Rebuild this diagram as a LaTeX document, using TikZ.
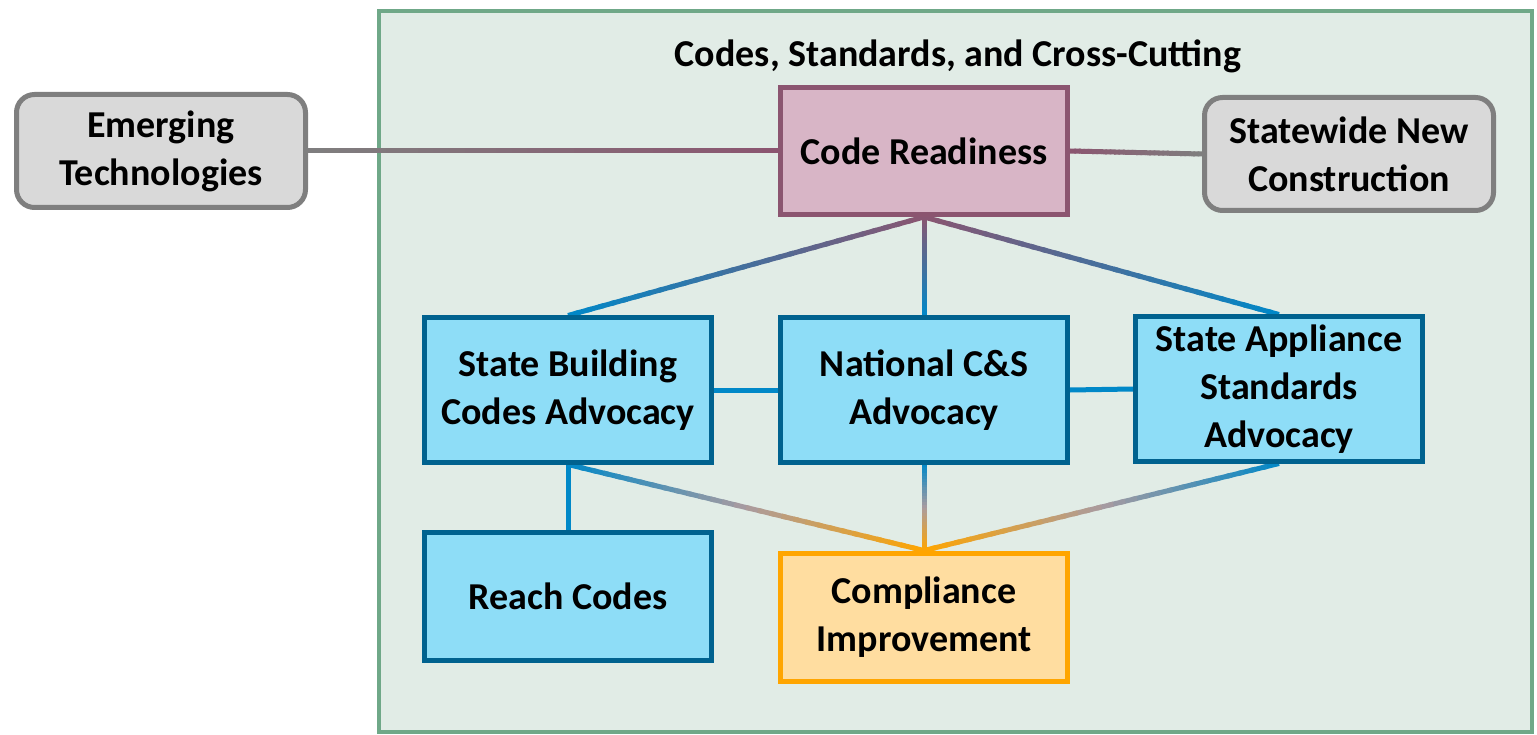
\documentclass[tikz,border=0pt]{standalone}
\usepackage{fontspec}
\setmainfont{Carlito}
\usetikzlibrary{calc}
\definecolor{framegreen}{HTML}{6FA888}
\definecolor{framefill}{HTML}{E1ECE6}
\definecolor{grayfill}{HTML}{D9D9D9}
\definecolor{grayline}{HTML}{7F7F7F}
\definecolor{purplefill}{HTML}{D8B5C6}
\definecolor{purpleline}{HTML}{8B5570}
\definecolor{bluefill}{HTML}{8EDDF7}
\definecolor{blueline}{HTML}{00628F}
\definecolor{bluelink}{HTML}{0088C8}
\definecolor{orangefill}{HTML}{FFDDA0}
\definecolor{orangeline}{HTML}{FFA500}
\definecolor{midmauve}{HTML}{A99BA0}
\pgfdeclarelayer{framelayer}
\pgfdeclarelayer{linelayer}
\pgfsetlayers{framelayer,linelayer,main}
\tikzset{
  boxtext/.style={font=\bfseries\fontsize{38}{48}\selectfont, align=center, text=black, inner sep=0pt},
  graybox/.style={boxtext, draw=grayline, fill=grayfill, line width=5pt, rounded corners=18pt, minimum width=289pt, minimum height=113pt},
  sqbox/.style={boxtext, line width=5pt, minimum width=287pt},
  purplebox/.style={sqbox, draw=purpleline, fill=purplefill, minimum height=127pt},
  bluebox/.style={sqbox, draw=blueline, fill=bluefill},
  orangebox/.style={sqbox, draw=orangeline, fill=orangefill, minimum height=128pt},
  conn/.style={line width=5pt},
}
% two-colour gradient line
\newcommand\gline[4]{%
  \foreach \i in {0,...,29}{%
    \pgfmathsetmacro\ta{\i/30}%
    \pgfmathsetmacro\tb{min(1,(\i+1.4)/30)}%
    \pgfmathtruncatemacro\pc{100-(\i+0.5)*100/30}%
    \draw[conn, color=#3!\pc!#4] ($(#1)!\ta!(#2)$) -- ($(#1)!\tb!(#2)$);
  }}
% three-colour gradient line (start, middle, end)
\newcommand\glinethree[5]{%
  \foreach \i in {0,...,29}{%
    \pgfmathsetmacro\ta{\i/30}%
    \pgfmathsetmacro\tb{min(1,(\i+1.4)/30)}%
    \ifnum\i<15
      \pgfmathtruncatemacro\pc{100-(\i+0.5)*100/15}%
      \draw[conn, color=#3!\pc!#4] ($(#1)!\ta!(#2)$) -- ($(#1)!\tb!(#2)$);
    \else
      \pgfmathtruncatemacro\pc{100-(\i-15+0.5)*100/15}%
      \draw[conn, color=#4!\pc!#5] ($(#1)!\ta!(#2)$) -- ($(#1)!\tb!(#2)$);
    \fi
  }}
\begin{document}
\begin{tikzpicture}[x=1pt,y=-1pt]
\useasboundingbox (0,0) rectangle (1537,735);
\begin{pgfonlayer}{framelayer}
\draw[framegreen, fill=framefill, line width=4pt] (379,11) rectangle (1532,732);
\end{pgfonlayer}
\node[font=\bfseries\fontsize{38}{46}\selectfont] (title) at (958,56) {Codes, Standards, and Cross-Cutting};
\node[graybox] (et) at (161,151) {Emerging\\Technologies};
\node[purplebox] (cr) at (924,151) {Code Readiness};
\node[graybox] (sn) at (1349,154) {Statewide New\\Construction};
\node[bluebox, minimum height=144pt] (sbc) at (568,390) {State Building\\Codes Advocacy};
\node[bluebox, minimum height=144pt] (nat) at (924,390) {National C\&S\\Advocacy};
\node[bluebox, minimum height=144pt] (sas) at (1279,389) {State Appliance\\Standards\\Advocacy};
\node[bluebox, minimum height=128pt] (rc) at (568,596) {Reach Codes};
\node[orangebox] (ci) at (924,617) {Compliance\\Improvement};
\begin{pgfonlayer}{linelayer}
\gline{et.east}{cr.west}{grayline}{purpleline}
\gline{cr.east}{sn.west}{purpleline}{grayline}
\gline{cr.south}{sbc.north}{purpleline}{bluelink}
\gline{cr.south}{nat.north}{purpleline}{bluelink}
\gline{cr.south}{sas.north}{purpleline}{bluelink}
\draw[conn, bluelink] (sbc.east) -- (nat.west);
\draw[conn, bluelink] (nat.east) -- (sas.west);
\draw[conn, bluelink] (sbc.south) -- (rc.north);
\glinethree{sbc.south}{ci.north}{bluelink}{midmauve}{orangeline}
\glinethree{nat.south}{ci.north}{bluelink}{midmauve}{orangeline}
\glinethree{sas.south}{ci.north}{bluelink}{midmauve}{orangeline}
\end{pgfonlayer}
\end{tikzpicture}
\end{document}
